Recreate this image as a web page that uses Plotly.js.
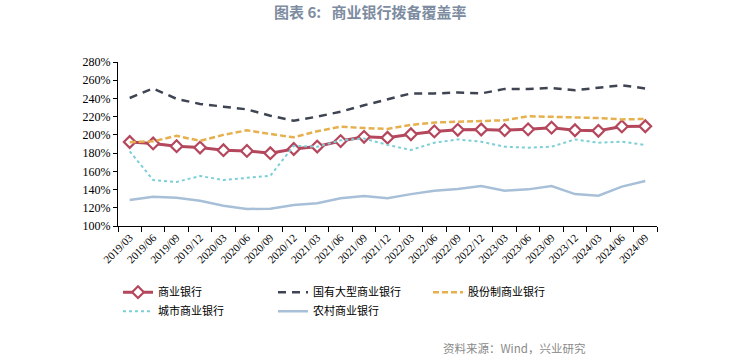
<!DOCTYPE html>
<html>
<head>
<meta charset="utf-8">
<script src="https://cdn.plot.ly/plotly-3.0.1.min.js"></script>
<style>html,body{margin:0;padding:0;background:#fff;}#chart{width:745px;height:361px;}</style>
</head>
<body>
<div id="chart"></div>
<script>
var categories = ['2019/03','2019/06','2019/09','2019/12','2020/03','2020/06','2020/09','2020/12',
  '2021/03','2021/06','2021/09','2021/12','2022/03','2022/06','2022/09','2022/12',
  '2023/03','2023/06','2023/09','2023/12','2024/03','2024/06','2024/09'];
var commercial = [192.2,190.6,187.6,186.1,183.2,182.4,179.9,184.5,187.2,193.2,197.9,196.9,200.7,203.8,205.6,205.9,205.2,206.1,207.9,205.1,204.5,209.3,209.5];
var stateOwned = [240.5,251,239.5,234,231,228,221,215.5,220,225.5,232.5,239,245.5,245.5,246.5,245.5,250.5,250.5,251.5,249,251.5,254.5,251];
var jointStock = [192,193,199,193.5,200,205,201,197.3,204,209,207.5,206.5,211,213.5,214.5,215,216,220.5,220,219.3,218.5,217,217.5];
var cityBanks = [182,150.5,148.3,154.9,150.5,153,155.2,188,187,194,196,189,183.4,191.4,195,192.5,187,186,187,195,191.4,192.5,189];
var ruralBanks = [128.5,132,131,127.8,122.3,118.7,119,123,124.9,130.4,132.9,130.4,135,138.8,140.6,143.9,138.8,140.2,143.9,135,133.3,143.2,149.4];
var names = ['商业银行','国有大型商业银行','股份制商业银行','城市商业银行','农村商业银行'];

var traces = [
  {x: categories, y: commercial, name: names[0], type: 'scatter', mode: 'lines+markers',
   line: {color: '#b5475d', width: 3},
   marker: {symbol: 'diamond', size: 9, color: '#ffffff', line: {color: '#b5475d', width: 2.2}}},
  {x: categories, y: stateOwned, name: names[1], type: 'scatter', mode: 'lines',
   line: {color: '#3e4452', width: 2.5, dash: '8px,6px'}},
  {x: categories, y: jointStock, name: names[2], type: 'scatter', mode: 'lines',
   line: {color: '#e5b04d', width: 2.5, dash: '6px,3px'}},
  {x: categories, y: cityBanks, name: names[3], type: 'scatter', mode: 'lines',
   line: {color: '#7ccfd6', width: 2, dash: 'dot'}},
  {x: categories, y: ruralBanks, name: names[4], type: 'scatter', mode: 'lines',
   line: {color: '#a7c0d8', width: 2.5}}
];

var layout = {
  width: 745, height: 361,
  margin: {l: 118, r: 88, t: 62, b: 135},
  paper_bgcolor: '#ffffff', plot_bgcolor: '#ffffff',
  showlegend: true,
  title: {text: '图表 6:   商业银行拨备覆盖率', x: 0.497, xanchor: 'center', y: 0.965, yanchor: 'middle',
          font: {family: 'Noto Sans CJK SC, sans-serif', size: 15, color: '#7d8ca1', weight: 'bold'}},
  xaxis: {type: 'category', showgrid: false, zeroline: false, showline: true, linecolor: '#000', linewidth: 1,
          ticks: 'outside', ticklen: 5, tickcolor: '#000', tickson: 'boundaries', tickangle: -45,
          tickfont: {family: 'Liberation Serif, serif', size: 11, color: '#000'}, range: [-0.5, 22.5]},
  yaxis: {range: [100, 280], dtick: 20, ticksuffix: '%', showgrid: false, zeroline: false, showline: true,
          linecolor: '#000', linewidth: 1, ticks: 'outside', ticklen: 4, tickcolor: '#000',
          tickfont: {family: 'Liberation Serif, serif', size: 12, color: '#000'}},
  legend: {orientation: 'h', x: 0, xanchor: 'left', y: -0.315, yanchor: 'top',
           entrywidth: 110, entrywidthmode: 'pixels', itemwidth: 30, tracegroupgap: 0,
           font: {family: 'Noto Sans CJK SC, sans-serif', size: 11, color: '#000'}},
  annotations: [{text: '资料来源：Wind，兴业研究', xref: 'paper', yref: 'paper', x: 0.872, xanchor: 'right',
                 y: -0.745, yanchor: 'middle', showarrow: false,
                 font: {family: 'Noto Sans CJK SC, sans-serif', size: 11.5, color: '#8a8a8a'}}]
};

Plotly.newPlot('chart', traces, layout, {displayModeBar: false, staticPlot: true});
</script>
</body>
</html>
